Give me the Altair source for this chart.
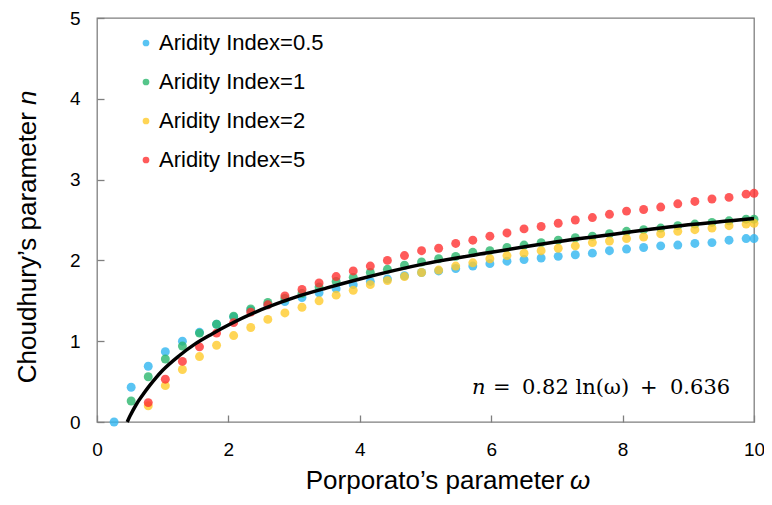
import altair as alt
import pandas as pd

# Porporato's parameter omega (x positions of the simulated points)
omega = [0.26, 0.52, 0.78, 1.04, 1.30, 1.56, 1.82, 2.08, 2.34, 2.60,
         2.86, 3.12, 3.38, 3.64, 3.90, 4.16, 4.42, 4.68, 4.94, 5.20,
         5.46, 5.72, 5.98, 6.24, 6.50, 6.76, 7.02, 7.28, 7.54, 7.80,
         8.06, 8.32, 8.58, 8.84, 9.10, 9.36, 9.62, 9.88, 10.00]

series_names = ["Aridity Index=0.5", "Aridity Index=1",
                "Aridity Index=2", "Aridity Index=5"]
series_colors = ["#2FB5F0", "#2AB66D", "#FFCA2A", "#FF3131"]

n_ai05 = [0.00, 0.43, 0.69, 0.87, 1.00, 1.11, 1.21, 1.30, 1.38, 1.45,
          1.49, 1.54, 1.60, 1.65, 1.70, 1.74, 1.77, 1.81, 1.85, 1.87,
          1.90, 1.93, 1.96, 1.99, 2.01, 2.03, 2.05, 2.07, 2.09, 2.12,
          2.14, 2.16, 2.18, 2.19, 2.21, 2.22, 2.25, 2.27, 2.27]
n_ai1 = [None, 0.26, 0.56, 0.78, 0.94, 1.10, 1.21, 1.31, 1.40, 1.48,
         1.53, 1.59, 1.67, 1.74, 1.79, 1.85, 1.89, 1.94, 1.98, 2.02,
         2.05, 2.10, 2.12, 2.16, 2.19, 2.22, 2.25, 2.28, 2.30, 2.33,
         2.36, 2.38, 2.40, 2.43, 2.45, 2.47, 2.49, 2.51, 2.51]
n_ai2 = [None, None, 0.20, 0.45, 0.65, 0.81, 0.95, 1.07, 1.17, 1.27,
         1.35, 1.42, 1.50, 1.57, 1.63, 1.70, 1.75, 1.80, 1.85, 1.88,
         1.93, 1.97, 2.02, 2.06, 2.09, 2.12, 2.15, 2.18, 2.22, 2.24,
         2.27, 2.29, 2.33, 2.36, 2.38, 2.40, 2.43, 2.45, 2.46]
n_ai5 = [None, None, 0.24, 0.53, 0.75, 0.93, 1.10, 1.23, 1.36, 1.45,
         1.56, 1.64, 1.72, 1.80, 1.87, 1.93, 2.00, 2.06, 2.12, 2.15,
         2.21, 2.25, 2.30, 2.34, 2.39, 2.42, 2.46, 2.50, 2.53, 2.57,
         2.61, 2.63, 2.66, 2.70, 2.73, 2.76, 2.78, 2.82, 2.83]

# fitted curve
fit_w = [0.46, 0.50, 0.60, 0.70, 0.80, 0.90, 1.00, 1.25, 1.50, 1.75,
         2.00, 2.50, 3.00, 3.50, 4.00, 5.00, 6.00, 7.00, 8.00, 9.00, 10.00]
fit_n = [0.00, 0.07, 0.22, 0.34, 0.45, 0.55, 0.64, 0.82, 0.97, 1.09,
         1.20, 1.39, 1.54, 1.66, 1.77, 1.96, 2.10, 2.23, 2.34, 2.44, 2.52]

x_ticks = [0, 2, 4, 6, 8, 10]
y_ticks = [0, 1, 2, 3, 4, 5]

rows = []
for name, vals in zip(series_names, [n_ai05, n_ai1, n_ai2, n_ai5]):
    for w, n in zip(omega, vals):
        if n is not None:
            rows.append({"omega": w, "n": n, "series": name})
df = pd.DataFrame(rows)
fit_df = pd.DataFrame({"omega": fit_w, "n": fit_n})

FONT = "Liberation Sans"

x_enc = alt.X("omega:Q", scale=alt.Scale(domain=[0, 10], nice=False),
              axis=alt.Axis(values=x_ticks, format="d", title=None, offset=-7,
                            tickSize=7, tickColor="#7f7f7f", tickWidth=1.3,
                            domain=False, grid=False, labelFont=FONT,
                            labelFontSize=19, labelColor="#000000",
                            labelPadding=18, labelFlush=False))
y_enc = alt.Y("n:Q", scale=alt.Scale(domain=[0, 5], nice=False),
              axis=alt.Axis(values=y_ticks, format="d", title=None, offset=-7,
                            tickSize=7, tickColor="#7f7f7f", tickWidth=1.3,
                            domain=False, grid=False, labelFont=FONT,
                            labelFontSize=19, labelColor="#000000",
                            labelPadding=17, labelFlush=False))

points = alt.Chart(df).mark_circle(size=80, opacity=0.8).encode(
    x=x_enc,
    y=y_enc,
    color=alt.Color("series:N",
                    scale=alt.Scale(domain=series_names, range=series_colors),
                    legend=alt.Legend(title=None, orient="none", legendX=38,
                                      legendY=14, symbolType="circle",
                                      symbolSize=45, symbolOpacity=0.8,
                                      labelFont=FONT, labelFontSize=22,
                                      labelColor="#000000", labelOffset=2,
                                      labelLimit=400, rowPadding=17,
                                      padding=0, symbolStrokeWidth=0)),
)

fit_line = alt.Chart(fit_df).mark_line(color="black", strokeWidth=3.5,
                                       interpolate="monotone").encode(
    x="omega:Q", y="n:Q")

one = pd.DataFrame({"a": [0]})

def label(text, x, y, **kw):
    return alt.Chart(one).mark_text(text=text, **kw).encode(
        x=alt.value(x), y=alt.value(y))

x_title_a = label("Porporato\u2019s parameter", 467, 471, align="right",
                  baseline="alphabetic", font=FONT, fontSize=26, color="#000")
x_title_b = label("\u03c9", 473, 471, align="left", baseline="alphabetic",
                  font=FONT, fontSize=26, fontStyle="italic", color="#000")
y_title_a = label("Choudhury\u2019s parameter", -61, 94, align="right",
                  baseline="alphabetic", angle=270, font=FONT, fontSize=26,
                  color="#000")
y_title_b = label("n", -61, 87, align="left", baseline="alphabetic", angle=270,
                  font=FONT, fontSize=26, fontStyle="italic", color="#000")

EQF = "DejaVu Serif"
eq_n = label("n", 375, 376, align="left", baseline="alphabetic", font=EQF,
             fontSize=21, fontStyle="italic", color="#000")
eq_eq = label("=", 396, 376, align="left", baseline="alphabetic", font=EQF,
              fontSize=21, color="#000")
eq_c = label("0.82 ln(\u03c9)", 425, 376, align="left", baseline="alphabetic",
             font=EQF, fontSize=21, color="#000")
eq_plus = label("+", 543, 376, align="left", baseline="alphabetic", font=EQF,
                fontSize=21, color="#000")
eq_d = label("0.636", 573, 376, align="left", baseline="alphabetic", font=EQF,
             fontSize=21, color="#000")

chart = alt.layer(points, fit_line, x_title_a, x_title_b, y_title_a,
                  y_title_b, eq_n, eq_eq, eq_c, eq_plus, eq_d).properties(
    width=657, height=404,
    padding={"left": 89, "top": 10, "right": 10, "bottom": 75},
    autosize=alt.AutoSizeParams(type="none"),
).configure_view(stroke="#7f7f7f", strokeWidth=1.3)

chart.save("out.html", embed_options={"renderer": "svg", "actions": False})
